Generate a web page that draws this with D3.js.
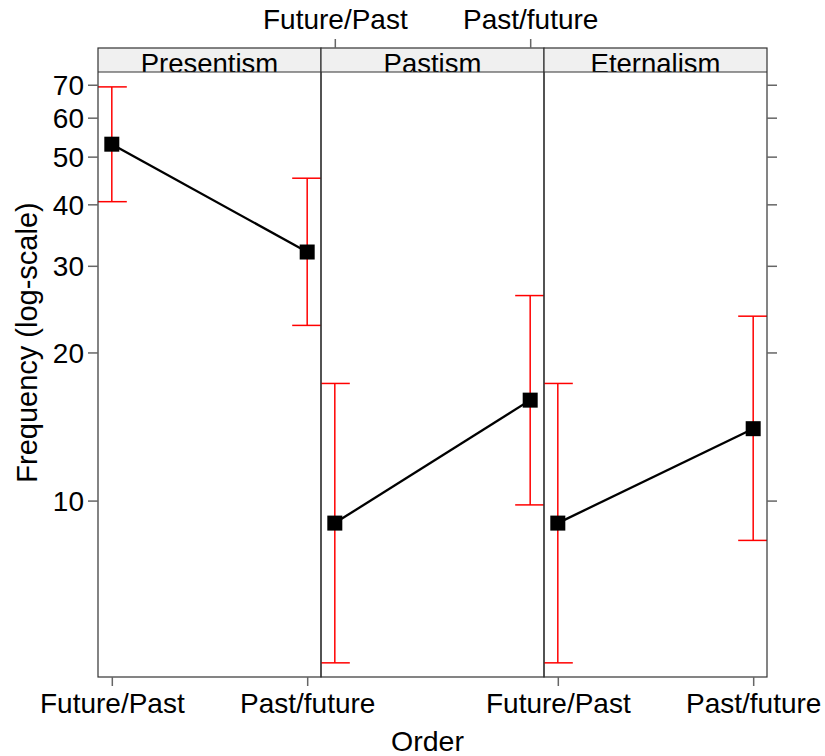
<!DOCTYPE html>
<html>
<head>
<meta charset="utf-8">
<script src="https://cdn.jsdelivr.net/npm/d3@7/dist/d3.min.js"></script>
<style>
  html, body { margin: 0; padding: 0; background: #fff; }
  svg { display: block; font-family: "Liberation Sans", Arial, sans-serif; }
</style>
</head>
<body>
<svg id="chart" width="825" height="756"></svg>
<script>
// Panels (conditioning factor) and x-axis levels
const panels = ["Presentism", "Pastism", "Eternalism"];
const orders = ["Future/Past", "Past/future"];

// Fitted frequency per panel, one value per order level
const fitPresentism = [53.0, 32.0];
const fitPastism = [9.0, 16.0];
const fitEternalism = [9.0, 14.0];

// Lower / upper confidence limits
const lowerPresentism = [40.5, 22.7];
const lowerPastism = [4.68, 9.8];
const lowerEternalism = [4.68, 8.3];
const upperPresentism = [69.3, 45.2];
const upperPastism = [17.3, 26.1];
const upperEternalism = [17.3, 23.7];

const yTicks = [10, 20, 30, 40, 50, 60, 70];

const fits = [fitPresentism, fitPastism, fitEternalism];
const lowers = [lowerPresentism, lowerPastism, lowerEternalism];
const uppers = [upperPresentism, upperPastism, upperEternalism];

const svg = d3.select("#chart");

const plotLeft = 98, plotRight = 767;
const stripTop = 48, stripBottom = 72, plotBottom = 677;

const px = d3.scaleBand().domain(panels).range([plotLeft, plotRight]);
const pw = px.bandwidth();
const x = d3.scalePoint().domain(orders).range([0, pw]).padding(0.0707);
const y = d3.scaleLog().domain([4.38, 74.3]).range([plotBottom, stripBottom]);

const fontSize = 28;
const tickColor = "#666";

const defs = svg.append("defs");

panels.forEach((p, i) => {
  const g = svg.append("g").attr("transform", `translate(${px(p)},0)`);

  // clip region for the panel contents
  defs.append("clipPath").attr("id", "clip" + i)
    .append("rect").attr("x", 0).attr("y", stripBottom).attr("width", pw).attr("height", plotBottom - stripBottom);
  defs.append("clipPath").attr("id", "sclip" + i)
    .append("rect").attr("x", 0).attr("y", stripTop).attr("width", pw).attr("height", stripBottom - stripTop);

  // strip
  g.append("rect")
    .attr("x", 0).attr("y", stripTop).attr("width", pw).attr("height", stripBottom - stripTop)
    .attr("fill", "#f0f0f0");
  g.append("text")
    .attr("clip-path", `url(#sclip${i})`)
    .attr("x", pw / 2).attr("y", stripBottom + 1)
    .attr("text-anchor", "middle")
    .attr("font-size", 27.5)
    .attr("fill", "#000")
    .text(p);

  const content = g.append("g").attr("clip-path", `url(#clip${i})`);

  const rows = orders.map((o, j) => ({ o, fit: fits[i][j], lo: lowers[i][j], hi: uppers[i][j] }));

  // confidence intervals
  const eb = content.append("g").attr("stroke", "#ff0000").attr("stroke-width", 1.5).attr("fill", "none");
  rows.forEach(r => {
    const cx = x(r.o);
    eb.append("line").attr("x1", cx).attr("x2", cx).attr("y1", y(r.lo)).attr("y2", y(r.hi));
    eb.append("line").attr("x1", cx - 15).attr("x2", cx + 15).attr("y1", y(r.lo)).attr("y2", y(r.lo));
    eb.append("line").attr("x1", cx - 15).attr("x2", cx + 15).attr("y1", y(r.hi)).attr("y2", y(r.hi));
  });

  // fitted line and markers
  content.append("path")
    .datum(rows)
    .attr("fill", "none").attr("stroke", "#000").attr("stroke-width", 2.3)
    .attr("d", d3.line().x(d => x(d.o)).y(d => y(d.fit)));
  content.selectAll("rect.pt").data(rows).join("rect")
    .attr("class", "pt")
    .attr("x", d => x(d.o) - 7.5).attr("y", d => y(d.fit) - 7.5)
    .attr("width", 15).attr("height", 15)
    .attr("fill", "#000");

  // panel + strip frame
  g.append("rect")
    .attr("x", 0).attr("y", stripTop).attr("width", pw).attr("height", plotBottom - stripTop)
    .attr("fill", "none").attr("stroke", "#333").attr("stroke-width", 1.2);
  g.append("line")
    .attr("x1", 0).attr("x2", pw).attr("y1", stripBottom).attr("y2", stripBottom)
    .attr("stroke", "#333").attr("stroke-width", 1.2);

  // x axes alternate between bottom and top
  if (i % 2 === 0) {
    const ax = g.append("g").attr("transform", `translate(0,${plotBottom})`)
      .call(d3.axisBottom(x).tickSize(9).tickPadding(7));
    styleAxis(ax);
  } else {
    const ax = g.append("g").attr("transform", `translate(0,${stripTop})`)
      .call(d3.axisTop(x).tickSize(9).tickPadding(10));
    styleAxis(ax);
  }

  if (i === 0) {
    const ay = g.append("g")
      .call(d3.axisLeft(y).tickValues(yTicks).tickFormat(d3.format("d")).tickSize(10).tickPadding(4));
    styleAxis(ay);
    ay.selectAll("text").attr("dy", "0.36em");
  }
  if (i === panels.length - 1) {
    const ay = g.append("g").attr("transform", `translate(${pw},0)`)
      .call(d3.axisRight(y).tickValues(yTicks).tickFormat("").tickSize(10));
    styleAxis(ay);
  }
});

function styleAxis(sel) {
  sel.select(".domain").remove();
  sel.selectAll(".tick line").attr("stroke", tickColor).attr("stroke-width", 1.5);
  sel.selectAll(".tick text").attr("font-size", fontSize).attr("fill", "#000")
    .attr("font-family", "'Liberation Sans', Arial, sans-serif");
}

// axis titles
svg.append("text")
  .attr("x", (plotLeft + plotRight) / 2 - 5).attr("y", 751)
  .attr("text-anchor", "middle").attr("font-size", 28.5).attr("fill", "#000")
  .text("Order");
svg.append("text")
  .attr("transform", `translate(37,${(stripBottom + plotBottom) / 2 - 32}) rotate(-90)`)
  .attr("text-anchor", "middle").attr("font-size", 29).attr("fill", "#000")
  .text("Frequency (log-scale)");
</script>
</body>
</html>
